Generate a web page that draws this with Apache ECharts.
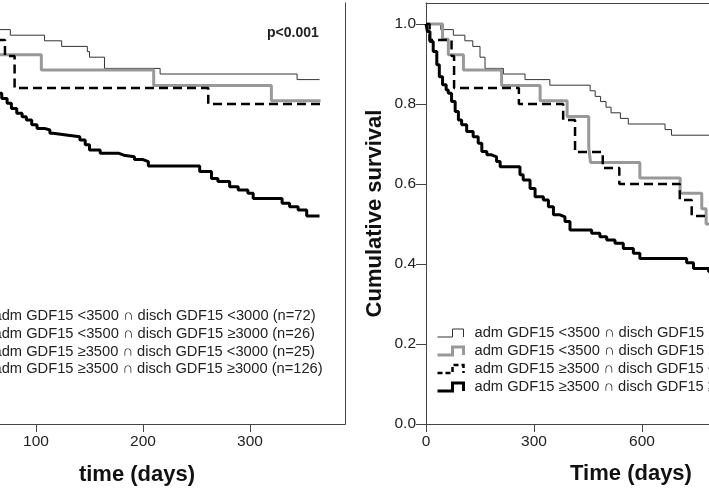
<!DOCTYPE html>
<html><head><meta charset="utf-8">
<script src="https://cdn.jsdelivr.net/npm/echarts@6/dist/echarts.min.js"></script>
<style>html,body{margin:0;padding:0;background:#fff}#c{width:709px;height:488px}</style>
</head><body><div id="c"></div>
<script>
// ---- data (time in days, cumulative survival) ----
const groupNames = [
  'adm GDF15 <3500 \u2229 disch GDF15 <3000 (n=72)',
  'adm GDF15 <3500 \u2229 disch GDF15 \u22653000 (n=26)',
  'adm GDF15 \u22653500 \u2229 disch GDF15 <3000 (n=25)',
  'adm GDF15 \u22653500 \u2229 disch GDF15 \u22653000 (n=126)'
];
const pValueText = 'p<0.001';
const leftXName = 'time (days)';
const rightXName = 'Time (days)';
const rightYName = 'Cumulative survival';
const leftXTicks = [100, 200, 300];
const rightXTicks = [0, 300, 600];
const yTicks = [0, 0.2, 0.4, 0.6, 0.8, 1.0];

// left panel (1-year follow-up; the picture is cropped on its left side)
const leftThin  = [[0,1],[41,0.986],[76,0.972],[108,0.958],[124,0.944],[148,0.931],[150,0.917],[164,0.889],[216,0.875],[344,0.861],[365,0.861]];
const leftGray  = [[0,1],[46,0.962],[62,0.923],[105,0.885],[210,0.846],[320,0.808],[366,0.808]];
const leftDash  = [[0,1],[10,0.96],[71,0.92],[80,0.84],[261,0.80],[366,0.80]];
const leftBlack = [[0,1],[4,0.981],[11,0.956],[20,0.931],[30,0.898],[37,0.868],[46,0.848],[56,0.835],[62,0.827],[68,0.814],[73,0.802],[77,0.789],[82,0.777],[87,0.768],[91,0.76],[96,0.748],[101,0.739],[108,0.735],[113,0.727],[116,0.722],[130,0.718],[141,0.71],[146,0.698],[150,0.685],[160,0.677],[177,0.672],[182,0.668],[192,0.661],[200,0.656],[205,0.645],[253,0.631],[264,0.614],[270,0.606],[281,0.593],[289,0.585],[298,0.577],[303,0.564],[330,0.552],[337,0.543],[345,0.535],[353,0.52],[365,0.52]];

// right panel (long follow-up; cropped on its right side)
const rightThin  = [[0,1],[41,0.986],[76,0.972],[108,0.958],[130,0.944],[150,0.917],[164,0.889],[215,0.875],[275,0.861],[344,0.847],[456,0.833],[470,0.819],[485,0.806],[500,0.792],[514,0.778],[540,0.764],[562,0.75],[664,0.736],[682,0.722],[800,0.722]];
const rightGray  = [[0,1],[46,0.962],[62,0.923],[104,0.885],[210,0.846],[317,0.808],[392,0.769],[452,0.692],[457,0.654],[594,0.615],[706,0.577],[766,0.538],[778,0.5],[790,0.5]];
const rightDash  = [[0,1],[10,0.96],[71,0.92],[78,0.84],[258,0.80],[381,0.76],[414,0.68],[491,0.64],[537,0.60],[705,0.56],[738,0.52],[800,0.52]];
const rightBlack = [[0,1],[4,0.981],[11,0.956],[20,0.931],[30,0.898],[37,0.868],[46,0.848],[56,0.835],[62,0.827],[71,0.806],[81,0.781],[90,0.76],[99,0.748],[113,0.731],[131,0.718],[145,0.702],[155,0.681],[169,0.673],[182,0.668],[196,0.656],[206,0.643],[261,0.623],[270,0.61],[289,0.589],[303,0.568],[326,0.56],[340,0.543],[354,0.523],[372,0.518],[386,0.506],[400,0.485],[460,0.477],[483,0.468],[502,0.46],[525,0.452],[548,0.439],[576,0.427],[594,0.414],[724,0.403],[743,0.389],[785,0.381],[800,0.381]];

// visible axis windows (the reference is a crop of a wider figure)
const leftXRange = [66.36, 388.8];
const rightXRange = [0, 786.1];
const yRange = [0, 1.0525];

// ---- styles ----
const FONT = "'Liberation Sans', Arial, sans-serif";
const styles = [
  {color:'#333', width:1, type:'solid'},
  {color:'#999', width:3, type:'solid'},
  {color:'#000', width:2.5, type:[9,5]},
  {color:'#000', width:3, type:'solid'}
];
const iconPath = 'path://M0,8 L15,8 L15,0 L26,0 L26,8';

function mkSeries(data, idx, axis) {
  return {
    type:'line', name: groupNames[idx], data: data, step:'end',
    xAxisIndex: axis, yAxisIndex: axis, symbol:'none', showSymbol:false,
    lineStyle:{color:styles[idx].color, width:styles[idx].width, type:styles[idx].type},
    itemStyle:{color:styles[idx].color}, animation:false, z: 2 + idx
  };
}
function legendData() {
  return groupNames.map((n,i)=>({
    name:n, icon: iconPath,
    itemStyle:{color:'none', borderColor:styles[i].color, borderWidth: i===0?1:(i===2?2.5:3), borderType: i===2?[5,3]:'solid'}
  }));
}
const lineCol = '#444';
const axisLine = {show:true, lineStyle:{color:lineCol, width:1}};
const tickLabel = {color:'#222', fontSize:15.5, fontFamily:FONT, margin:10};
const nameFont = {fontSize:22, fontWeight:'bold', fill:'#111', fontFamily:FONT};
function frameAxis(grid, pos, range) {
  return {type:'value', gridIndex:grid, position:pos, min:range[0], max:range[1],
          axisLine:axisLine, axisTick:{show:false}, axisLabel:{show:false}, splitLine:{show:false}};
}

const chart = echarts.init(document.getElementById('c'), null, {renderer:'canvas'});
chart.setOption({
  animation:false,
  backgroundColor:'#fff',
  grid:[
    {left:0, right:364, top:3, bottom:64, show:false, containLabel:false},
    {left:426, right:0, top:3, bottom:64, show:false, containLabel:false}
  ],
  xAxis:[
    {type:'value', gridIndex:0, position:'bottom', min:leftXRange[0], max:leftXRange[1], splitLine:{show:false}, axisLine:axisLine,
     axisTick:{show:true, length:8, lineStyle:{color:lineCol}, customValues:leftXTicks},
     axisLabel:Object.assign({customValues:leftXTicks}, tickLabel)},
    {type:'value', gridIndex:1, position:'bottom', min:rightXRange[0], max:rightXRange[1], splitLine:{show:false}, axisLine:axisLine,
     axisTick:{show:true, length:8, lineStyle:{color:lineCol}, customValues:rightXTicks},
     axisLabel:Object.assign({customValues:rightXTicks}, tickLabel)},
    frameAxis(0, 'top', leftXRange),
    frameAxis(1, 'top', rightXRange)
  ],
  yAxis:[
    {type:'value', gridIndex:0, min:yRange[0], max:yRange[1], show:false, splitLine:{show:false}},
    {type:'value', gridIndex:1, position:'left', min:yRange[0], max:yRange[1], splitLine:{show:false}, axisLine:axisLine,
     axisTick:{show:true, length:10, lineStyle:{color:lineCol}, customValues:yTicks},
     axisLabel:Object.assign({customValues:yTicks, formatter:v=>v.toFixed(1)}, tickLabel),
     name:rightYName, nameLocation:'middle', nameGap:40,
     nameTextStyle:{fontSize:22, fontWeight:'bold', color:'#111', fontFamily:FONT}},
    frameAxis(0, 'right', yRange)
  ],
  legend:[
    {orient:'vertical', left:-51, top:302, itemWidth:38, itemHeight:8, itemGap:0, symbolKeepAspect:true,
     selectedMode:false, textStyle:{fontSize:14.7, lineHeight:17.8, color:'#222', fontFamily:FONT}, data:legendData()},
    {orient:'vertical', left:430, top:319, itemWidth:38, itemHeight:8, itemGap:0, symbolKeepAspect:true,
     selectedMode:false, textStyle:{fontSize:14.7, lineHeight:18, color:'#222', fontFamily:FONT}, data:legendData()}
  ],
  graphic:[
    {type:'text', left:267, top:26, style:{text:pValueText, fontSize:14, fontWeight:'bold', fontFamily:FONT, fill:'#222'}},
    {type:'text', x:137, y:475, style:Object.assign({text:leftXName, align:'center', verticalAlign:'middle'}, nameFont)},
    {type:'text', x:631, y:474, style:Object.assign({text:rightXName, align:'center', verticalAlign:'middle'}, nameFont)}
  ],
  series:[
    mkSeries(leftThin,0,0), mkSeries(leftGray,1,0), mkSeries(leftDash,2,0), mkSeries(leftBlack,3,0),
    mkSeries(rightThin,0,1), mkSeries(rightGray,1,1), mkSeries(rightDash,2,1), mkSeries(rightBlack,3,1)
  ]
});
</script>
</body></html>
